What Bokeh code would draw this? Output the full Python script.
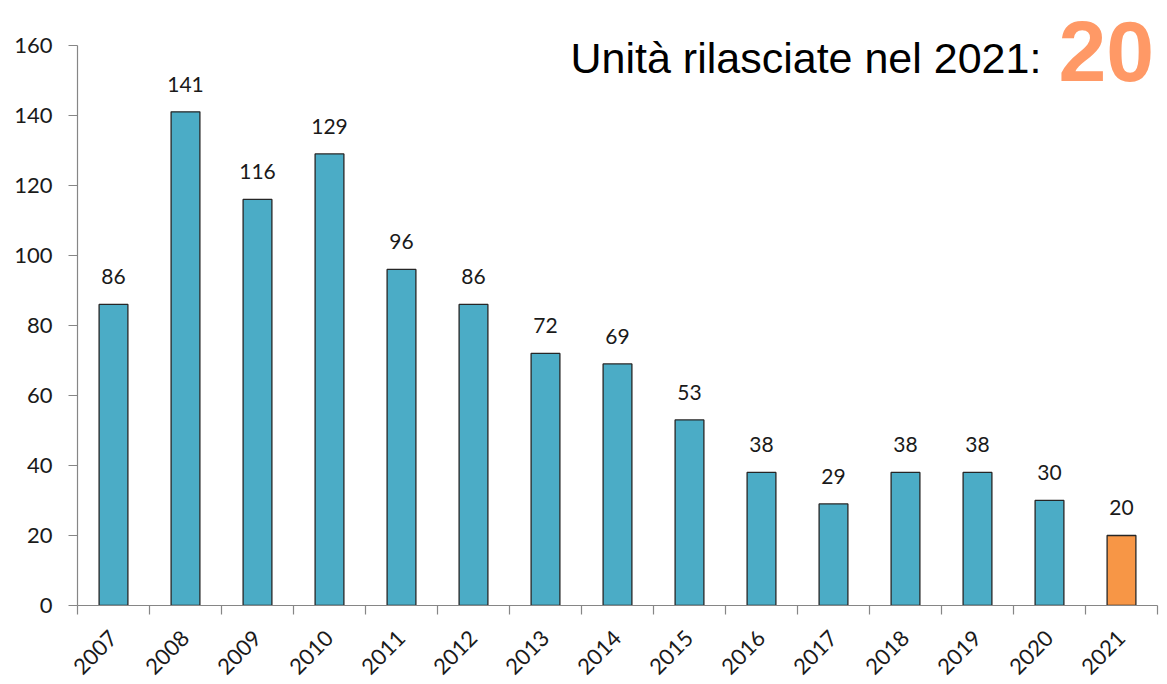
from bokeh.plotting import figure
from bokeh.models import Range1d, FixedTicker, ColumnDataSource, LabelSet, Label
from bokeh.core.properties import value
from bokeh.embed import file_html
from bokeh.resources import INLINE
import math

years = ["2007", "2008", "2009", "2010", "2011", "2012", "2013", "2014",
         "2015", "2016", "2017", "2018", "2019", "2020", "2021"]
units = [86, 141, 116, 129, 96, 86, 72, 69, 53, 38, 29, 38, 38, 30, 20]
y_ticks = [0, 20, 40, 60, 80, 100, 120, 140, 160]
headline_text = "Unità rilasciate nel 2021:"
headline_value = "20"

TEAL = "#4BACC6"
ORANGE = "#F79646"
HEAD_ORANGE = "#FF9966"

n = len(years)
xs = [i + 0.5 for i in range(n)]
colors = [TEAL] * (n - 1) + [ORANGE]
src = ColumnDataSource(dict(x=xs, top=units, color=colors,
                            lab=[str(v) for v in units]))

# frame spans the whole canvas width/top so that headline labels are not clipped;
# axis lines are bounded to the real data extent
W, H = 1167, 684
LEFT, BOTTOM = 77, 77
AXIS_TOP_PX = 45      # pixel row of y=160
AXIS_RIGHT_PX = 1157  # pixel column of x=15
frame_h = H - BOTTOM
frame_w = W - LEFT
y_end = y_ticks[-1] * frame_h / (frame_h - AXIS_TOP_PX)
x_end = n * frame_w / (AXIS_RIGHT_PX - LEFT)

p = figure(width=W, height=H, output_backend="svg", toolbar_location=None,
           x_range=Range1d(0, x_end), y_range=Range1d(0, y_end),
           min_border_left=LEFT, min_border_right=0, min_border_top=0,
           min_border_bottom=BOTTOM)
p.outline_line_color = None
p.xgrid.grid_line_color = None
p.ygrid.grid_line_color = None
p.background_fill_color = "white"

p.vbar(x="x", top="top", width=0.4, bottom=0, fill_color="color",
       line_color="#262626", line_width=1.3, source=src)

labels = LabelSet(x="x", y="top", text="lab", source=src, y_offset=20,
                  text_align="center", text_baseline="alphabetic",
                  text_font=value("Lato"), text_font_size=value("21px"),
                  text_color="#1a1a1a")
p.add_layout(labels)

AX = "#868686"
# y axis
p.yaxis.bounds = (0, y_ticks[-1])
p.yaxis.ticker = FixedTicker(ticks=y_ticks)
p.yaxis.axis_line_color = AX
p.yaxis.major_tick_line_color = AX
p.yaxis.major_tick_out = 9
p.yaxis.major_tick_in = 0
p.yaxis.minor_tick_line_color = None
p.yaxis.major_label_text_font = "Lato"
p.yaxis.major_label_text_font_size = "22px"
p.yaxis.major_label_text_color = "#1a1a1a"
p.yaxis.major_label_standoff = 16
p.yaxis.axis_line_width = 1.2
p.yaxis.major_tick_line_width = 1.2

# x axis
p.xaxis.bounds = (0, n)
p.xaxis.ticker = FixedTicker(ticks=xs, minor_ticks=list(range(0, n + 1)))
p.xaxis.major_label_overrides = {x: y for x, y in zip(xs, years)}
p.xaxis.major_tick_line_color = None
p.xaxis.minor_tick_line_color = AX
p.xaxis.minor_tick_out = 9
p.xaxis.minor_tick_in = 0
p.xaxis.axis_line_color = AX
p.xaxis.axis_line_width = 1.2
p.xaxis.minor_tick_line_width = 1.2
p.xaxis.major_label_orientation = math.pi / 4
p.xaxis.major_label_text_font = "Lato"
p.xaxis.major_label_text_font_size = "22px"
p.xaxis.major_label_text_color = "#1a1a1a"
p.xaxis.major_label_standoff = 20

t1 = Label(x=493, y=548, x_units="screen", y_units="screen", text=headline_text,
           text_font="Liberation Sans", text_font_size="43px", text_color="black",
           text_baseline="alphabetic", text_align="left")
t2 = Label(x=981, y=554, x_units="screen", y_units="screen", text=headline_value,
           text_font="Liberation Sans", text_font_size="86px", text_font_style="bold",
           text_color=HEAD_ORANGE, text_baseline="alphabetic", text_align="left")
p.add_layout(t1)
p.add_layout(t2)

open("out.html", "w").write(file_html(p, INLINE))
